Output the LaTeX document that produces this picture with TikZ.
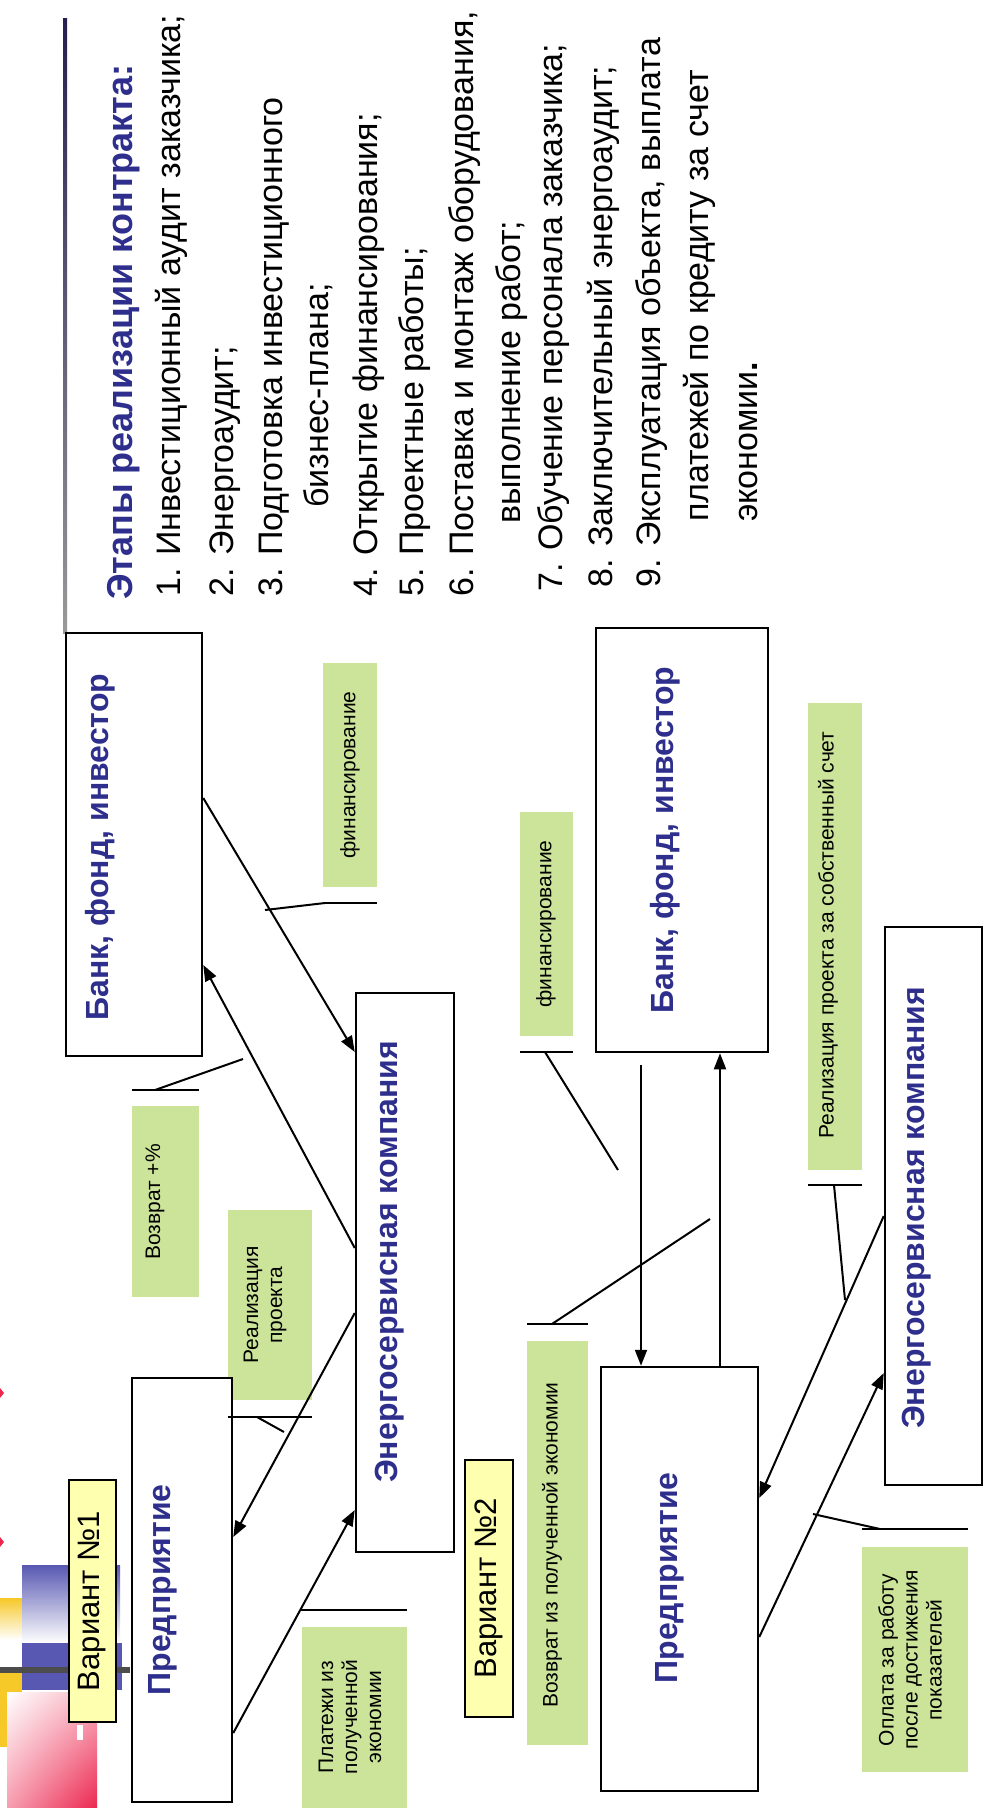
\documentclass[tikz,border=0pt]{standalone}
\usepackage{fontspec}
\setmainfont{Liberation Sans}
\usetikzlibrary{arrows.meta, shadings}

\definecolor{tagfill}{RGB}{204,228,153}
\definecolor{varfill}{RGB}{255,255,176}
\definecolor{inkblue}{RGB}{46,46,140}
\definecolor{rulenavy}{RGB}{40,30,80}
\definecolor{logoblue}{RGB}{88,88,178}
\definecolor{logoyel}{RGB}{246,200,40}
\definecolor{logored}{RGB}{236,40,80}

\tikzset {
    box/.style={rectangle, draw=black, line width=2.5pt, fill=white, inner sep=0pt},
    varbox/.style={rectangle, draw=black, line width=2.5pt, fill=varfill, inner sep=0pt},
    tag/.style={rectangle, fill=tagfill, inner sep=0pt},
    who/.style={rotate=90, text=inkblue, font=\fontsize{32}{36}\selectfont\bfseries},
    tagtext/.style={rotate=90, align=center, font=\fontsize{21}{24}\selectfont},
    vartext/.style={rotate=90, font=\fontsize{31}{36}\selectfont},
    stageline/.style={rotate=90, anchor=base west, inner sep=0pt, font=\fontsize{34}{40}\selectfont},
    arr/.style={->, >={Triangle[length=16pt, width=12pt]}, line width=2pt},
    bar/.style={line width=2pt},
}

\begin{document}
\begin{tikzpicture}[x=1pt, y=-1pt]
    \useasboundingbox (0, 0) rectangle (983, 1813);

    % logo
    \shade [upper left=white, upper right=logored!35, lower left=logored!45, lower right=logored] (7, 1692) rectangle (97, 1807);
    \fill [white] (77, 1725) rectangle (83, 1740);
    \shade [top color=logoyel, bottom color=white] (0, 1598) rectangle (22, 1640);
    \fill [logoyel] (0, 1673) rectangle (22, 1692);
    \fill [logoyel] (0, 1692) rectangle (7, 1747);
    \shade [top color=logoblue, bottom color=white] (22, 1565) rectangle (120, 1643);
    \fill [logoblue] (22, 1643) rectangle (122, 1690);
    \fill [black!70] (0, 1667) rectangle (130, 1673);
    \fill [logored] (0, 1388) -- (4, 1393) -- (0, 1398) -- cycle;
    \fill [logored] (0, 1537) -- (4, 1542) -- (0, 1547) -- cycle;
    \shade [top color=rulenavy, bottom color=black!40] (63, 18) rectangle (67, 633);

    % stages
    \node (title) at (132, 600) [stageline, text=inkblue, font=\fontsize{36}{40}\selectfont\bfseries] {Этапы реализации контракта:};
    \node (st1) at (180, 597) [stageline] {1. Инвестиционный аудит заказчика;};
    \node (st2) at (233, 597) [stageline] {2. Энергоаудит;};
    \node (st3) at (282, 597) [stageline] {3. Подготовка инвестиционного};
    \node (st3b) at (328, 508) [stageline] {бизнес-плана;};
    \node (st4) at (377, 597) [stageline] {4. Открытие финансирования;};
    \node (st5) at (423, 597) [stageline] {5. Проектные работы;};
    \node (st6) at (473, 597) [stageline] {6. Поставка и монтаж оборудования,};
    \node (st6b) at (520, 524) [stageline] {выполнение работ;};
    \node (st7) at (562, 592) [stageline] {7. Обучение персонала заказчика;};
    \node (st8) at (612, 588) [stageline] {8. Заключительный энергоаудит;};
    \node (st9) at (660, 588) [stageline] {9. Эксплуатация объекта, выплата};
    \node (st9b) at (708, 522) [stageline] {платежей по кредиту за счет};
    \node (st9c) at (757, 522) [stageline] {экономии\textbf{.}};

    % labels
    \node (fin1) at (350, 775) [tag, minimum width=54pt, minimum height=224pt] {};
    \node (voz1) at (165.5, 1201.5) [tag, minimum width=67pt, minimum height=191pt] {};
    \node (real1) at (270, 1305) [tag, minimum width=84pt, minimum height=190pt] {};
    \node (plat1) at (354.5, 1717.5) [tag, minimum width=105pt, minimum height=181pt] {};
    \node (fin2) at (546.5, 924) [tag, minimum width=53pt, minimum height=224pt] {};
    \node (voz2) at (557.5, 1543) [tag, minimum width=61pt, minimum height=404pt] {};
    \node (real2) at (835, 936.5) [tag, minimum width=54pt, minimum height=467pt] {};
    \node (opl) at (915, 1659.5) [tag, minimum width=106pt, minimum height=225pt] {};
    \node (fin1txt) at (350, 775) [tagtext] {финансирование};
    \node (voz1txt) at (155, 1202) [tagtext] {Возврат +\%};
    \node (real1txt) at (265, 1305) [tagtext] {Реализация\\проекта};
    \node (plat1txt) at (350, 1717) [tagtext] {Платежи из\\полученной\\экономии};
    \node (fin2txt) at (546, 924) [tagtext] {финансирование};
    \node (voz2txt) at (552, 1545) [tagtext] {Возврат из полученной экономии};
    \node (real2txt) at (828, 935) [tagtext] {Реализация проекта за собственный счет};
    \node (opltxt) at (910, 1660) [tagtext] {Оплата за работу\\после достижения\\показателей};

    % variant 1
    \node (var1) at (92.5, 1601) [varbox, minimum width=47pt, minimum height=242pt] {};
    \node (var1txt) at (92.5, 1601) [vartext] {Вариант №1};
    \node (bank1) at (134, 844.5) [box, minimum width=136pt, minimum height=423pt] {};
    \node (eco1) at (405, 1272.5) [box, minimum width=98pt, minimum height=559pt] {};
    \node (pred1) at (182, 1590) [box, minimum width=100pt, minimum height=424pt] {};
    \node (bank1txt) at (100, 847) [who] {Банк, фонд, инвестор};
    \node (eco1txt) at (390, 1262) [who] {Энергосервисная компания};
    \node (pred1txt) at (163, 1590) [who] {Предприятие};

    % variant 2
    \node (var2) at (489, 1588.5) [varbox, minimum width=48pt, minimum height=257pt] {};
    \node (var2txt) at (489, 1588.5) [vartext] {Вариант №2};
    \node (bank2) at (682, 840) [box, minimum width=172pt, minimum height=424pt] {};
    \node (eco2) at (933.5, 1206) [box, minimum width=97pt, minimum height=558pt] {};
    \node (pred2) at (679.5, 1579) [box, minimum width=157pt, minimum height=424pt] {};
    \node (bank2txt) at (665, 840) [who] {Банк, фонд, инвестор};
    \node (eco2txt) at (917, 1208) [who] {Энергосервисная компания};
    \node (pred2txt) at (670, 1578) [who] {Предприятие};

    % flows
    \draw [arr] (bank1.east |- 0,798) -- (eco1.west |- 0,1052);
    \draw [arr] (eco1.west |- 0,1248) -- (bank1.east |- 0,965);
    \draw [arr] (eco1.west |- 0,1313) -- (pred1.east |- 0,1537);
    \draw [arr] (pred1.east |- 0,1733) -- (eco1.west |- 0,1510);
    \coordinate (b2out) at (641, 1065);
    \draw [arr] (b2out) -- (pred2.north -| b2out);
    \draw [arr] (pred2.north -| 720,0) -- (bank2.south -| 720,0);
    \draw [arr] (eco2.west |- 0,1216) -- (pred2.east |- 0,1498);
    \draw [arr] (pred2.east |- 0,1637) -- (eco2.west |- 0,1373);

    % callouts
    \coordinate (fin1a) at (325, 903);
    \coordinate (fin1b) at (265, 910);
    \draw [bar] (fin1a) -- (fin1.east |- fin1a);
    \draw [bar] (fin1a) -- (fin1b);
    \coordinate (voz1a) at (155, 1090);
    \coordinate (voz1b) at (243, 1059);
    \draw [bar] (voz1.west |- voz1a) -- (voz1.east |- voz1a);
    \draw [bar] (voz1a) -- (voz1b);
    \coordinate (real1a) at (257, 1417);
    \coordinate (real1b) at (284, 1432);
    \draw [bar] (real1.west |- real1a) -- (real1.east |- real1a);
    \draw [bar] (real1a) -- (real1b);
    \coordinate (plat1a) at (300, 1610);
    \draw [bar] (plat1a) -- (plat1.east |- plat1a);
    \coordinate (fin2a) at (545, 1052);
    \coordinate (fin2b) at (618, 1170);
    \draw [bar] (fin2.west |- fin2a) -- (fin2.east |- fin2a);
    \draw [bar] (fin2a) -- (fin2b);
    \coordinate (voz2a) at (552, 1324);
    \coordinate (voz2b) at (710, 1219);
    \draw [bar] (voz2.west |- voz2a) -- (voz2.east |- voz2a);
    \draw [bar] (voz2a) -- (voz2b);
    \coordinate (real2a) at (834, 1185);
    \coordinate (real2b) at (845, 1300);
    \draw [bar] (real2.west |- real2a) -- (real2.east |- real2a);
    \draw [bar] (real2a) -- (real2b);
    \coordinate (opla) at (880, 1529);
    \coordinate (oplb) at (813, 1514);
    \draw [bar] (opl.west |- opla) -- (opl.east |- opla);
    \draw [bar] (opla) -- (oplb);
\end{tikzpicture}
\end{document}
